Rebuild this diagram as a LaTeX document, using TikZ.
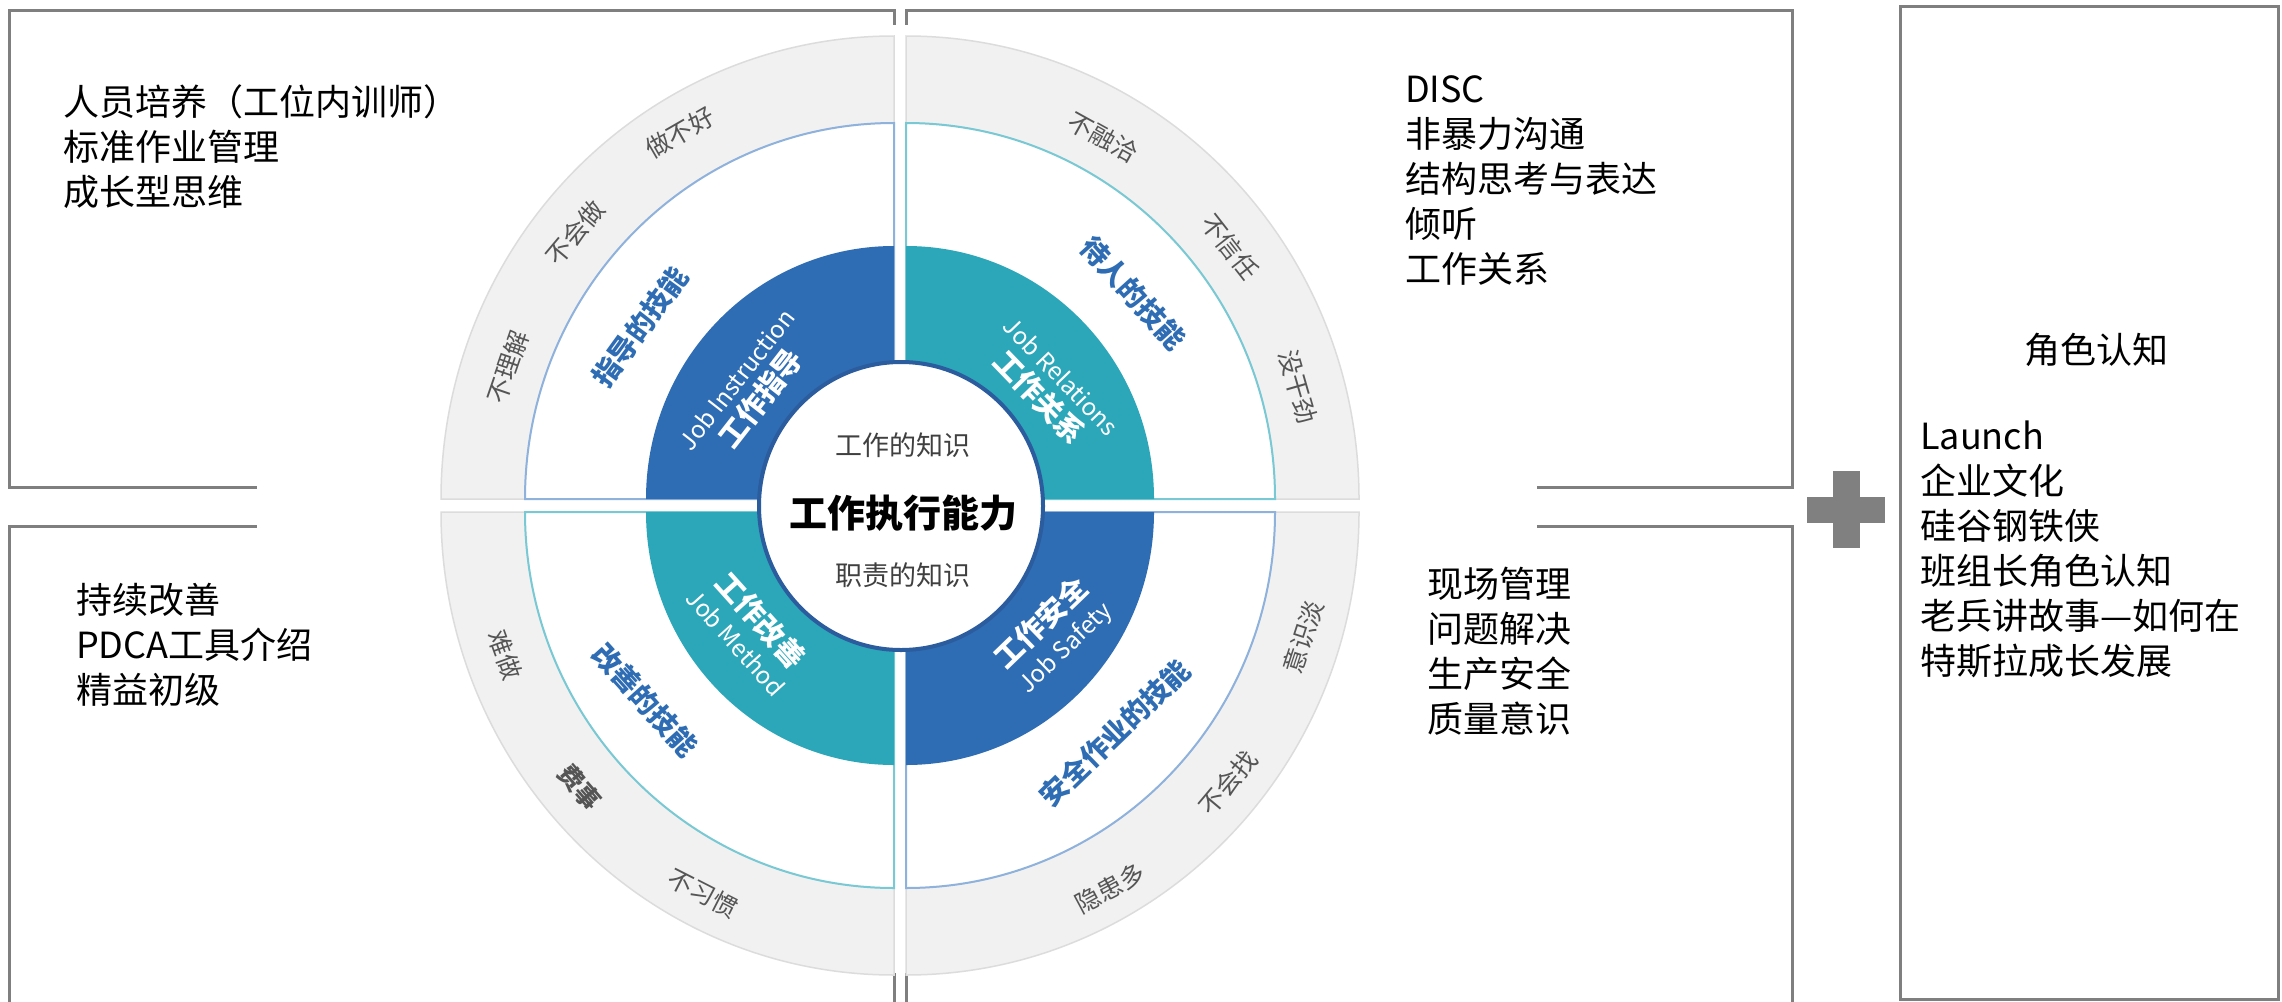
\documentclass[tikz,border=0pt]{standalone}
\usepackage{fontspec}
\setmainfont{Noto Sans CJK SC}
\usetikzlibrary{calc}
\definecolor{boxgray}{HTML}{7F7F7F}
\definecolor{plusgray}{HTML}{808080}
\definecolor{jblue}{HTML}{2E6DB4}
\definecolor{jteal}{HTML}{2CA7B9}
\definecolor{ringgray}{HTML}{F1F1F1}
\definecolor{ringedge}{HTML}{DCDCDC}
\definecolor{lblue}{HTML}{8FB2DD}
\definecolor{lteal}{HTML}{79C9D4}
\definecolor{labgray}{HTML}{555555}
\definecolor{cborder}{HTML}{2B5C9E}
\definecolor{ctext}{HTML}{404040}
\newcommand\fs[2]{\fontsize{#1}{#2}\selectfont}
\newcommand\cnline[1]{{\bfseries\fs{29}{32}#1}}
% quadrant: corner x, corner y, start angle, end angle, ring colour, border colour
\newcommand\wquad[6]{%
  \begin{scope}[shift={(#1,#2)}]
    \filldraw[fill=ringgray, draw=ringedge, line width=1.5]
      (#3:453 and 463) arc[start angle=#3, end angle=#4, x radius=453, y radius=463]
      -- (#4:369 and 376) arc[start angle=#4, end angle=#3, x radius=369, y radius=376] -- cycle;
    \filldraw[fill=white, draw=#6, line width=2]
      (0,0) -- (#3:369 and 376) arc[start angle=#3, end angle=#4, x radius=369, y radius=376] -- cycle;
    \fill[#5] (0,0) -- (#3:248 and 253) arc[start angle=#3, end angle=#4, x radius=248, y radius=253] -- cycle;
  \end{scope}}
\tikzset{
  frame/.style={draw=boxgray, line width=3},
  lab/.style={text=labgray, font=\fs{25}{25}, inner sep=0},
  skill/.style={text=jblue, font=\bfseries\fs{28}{28}, inner sep=0},
  ringtxt/.style={text=white, font=\fs{24}{32}, align=center, inner sep=0},
  boxtext/.style={anchor=west, align=left, font=\fs{36}{45}, inner sep=0},
}
\begin{document}
\begin{tikzpicture}[x=1pt,y=1pt]
\useasboundingbox (0,-1001) rectangle (2282,0);
\clip (0,-1001) rectangle (2282,0);
\fill[white] (0,-1001) rectangle (2282,0);
% frames
\draw[frame] (9,-10) rectangle (894,-487);
\draw[frame] (906,-10) rectangle (1792,-487);
\draw[frame] (9,-526) rectangle (894,-1015);
\draw[frame] (906,-526) rectangle (1792,-1015);
\draw[frame] (1900,-6) rectangle (2278,-999);
% wheel picture background
\fill[white] (257,-25) rectangle (1537,-973);
% quadrants
\wquad{894}{-499}{90}{180}{jblue}{lblue}
\wquad{906}{-499}{0}{90}{jteal}{lteal}
\wquad{894}{-512}{180}{270}{jteal}{lteal}
\wquad{906}{-512}{270}{360}{jblue}{lblue}
% centre
\filldraw[fill=white, draw=cborder, line width=4] (901,-506) ellipse[x radius=142, y radius=144];
\node[font=\fs{27}{27}, text=ctext] (k1) at (903,-445) {工作的知识};
\node[font=\bfseries\fs{38}{38}, text=black] (k0) at (903,-513) {工作执行能力};
\node[font=\fs{27}{27}, text=ctext] (k2) at (903,-575) {职责的知识};
% top-left quadrant
\node[lab, rotate=71] (a1) at (508,-367) {不理解};
\node[lab, rotate=50] (a2) at (575,-233) {不会做};
\node[lab, rotate=30] (a3) at (680,-133) {做不好};
\node[skill, rotate=54] (a4) at (640,-327) {指导的技能};
\node[ringtxt, rotate=52] (a5) at (750,-390) {Job Instruction\\\cnline{工作指导}};
% top-right quadrant
\node[lab, rotate=-29] (b1) at (1103,-137) {不融洽};
\node[lab, rotate=-52] (b2) at (1230,-247) {不信任};
\node[lab, rotate=-74] (b3) at (1298,-387) {没干劲};
\node[skill, rotate=-48] (b4) at (1133,-293) {待人的技能};
\node[ringtxt, rotate=-46] (b5) at (1049,-388) {Job Relations\\\cnline{工作关系}};
% bottom-left quadrant
\node[lab, rotate=-70] (c1) at (505,-655) {难做};
\node[lab, font=\bfseries\fs{25}{25}, rotate=-49] (c2) at (580,-787) {费事};
\node[lab, rotate=-27] (c3) at (703,-893) {不习惯};
\node[skill, rotate=-48] (c4) at (645,-700) {改善的技能};
\node[ringtxt, rotate=-48] (c5) at (750,-630) {\cnline{工作改善}\\Job Method};
% bottom-right quadrant
\node[lab, rotate=72] (d1) at (1303,-637) {意识淡};
\node[lab, rotate=50] (d2) at (1228,-783) {不会找};
\node[lab, rotate=28] (d3) at (1110,-888) {隐患多};
\node[skill, rotate=44] (d4) at (1115,-733) {安全作业的技能};
\node[ringtxt, rotate=44] (d5) at (1053,-635) {\cnline{工作安全}\\Job Safety};
% box texts
\node[boxtext] (t1) at (63,-147) {人员培养（工位内训师）\\标准作业管理\\成长型思维};
\node[boxtext] (t2) at (1405,-180) {DISC\\非暴力沟通\\结构思考与表达\\倾听\\工作关系};
\node[boxtext] (t3) at (76,-645) {持续改善\\PDCA工具介绍\\精益初级};
\node[boxtext] (t4) at (1427,-651) {现场管理\\问题解决\\生产安全\\质量意识};
\node[font=\fs{36}{45}, inner sep=0] (t5) at (2096,-350) {角色认知};
\node[boxtext] (t6) at (1920,-549) {Launch\\企业文化\\硅谷钢铁侠\\班组长角色认知\\老兵讲故事—如何在\\特斯拉成长发展};
% plus sign
\fill[plusgray] (1807,-497) rectangle (1885,-523);
\fill[plusgray] (1832.5,-471) rectangle (1859.5,-548);
\end{tikzpicture}
\end{document}
